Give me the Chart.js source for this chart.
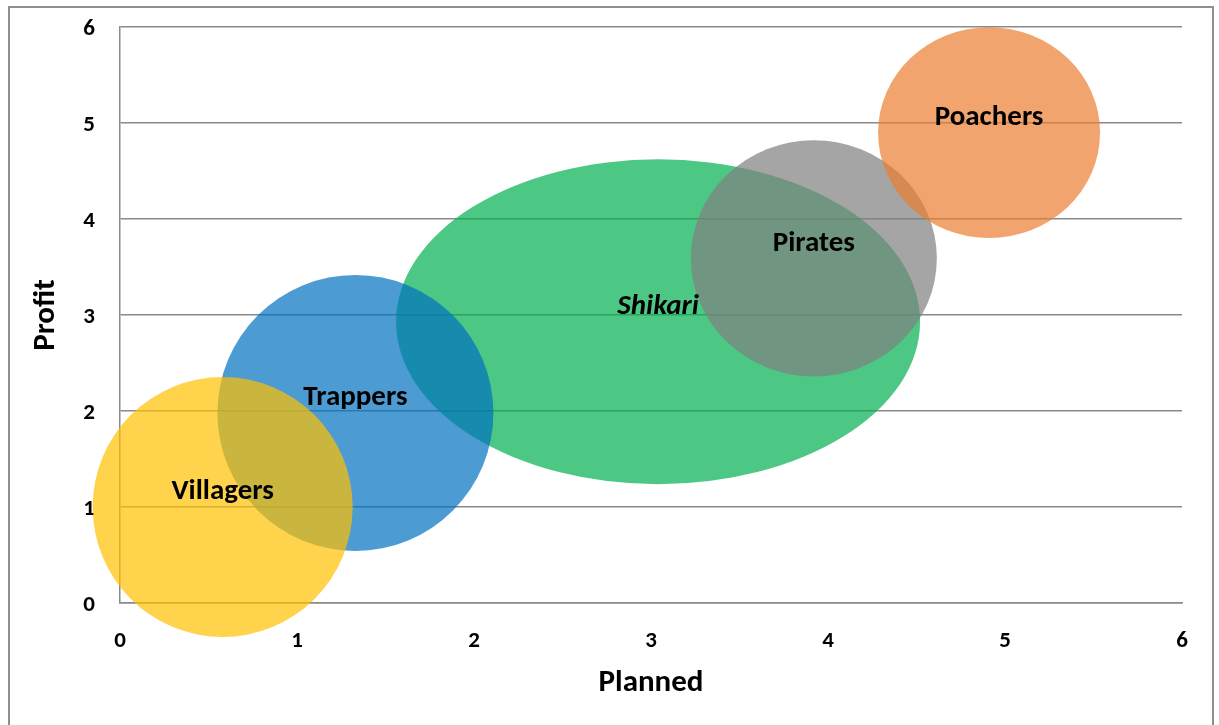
<!DOCTYPE html>
<html>
<head>
<meta charset="utf-8">
<script src="https://cdn.jsdelivr.net/npm/chart.js@4/dist/chart.umd.min.js"></script>
<style>
  body { margin: 0; background: #fff; overflow: hidden; }
  #frame {
    position: absolute; left: 8px; top: 6px; width: 1202px; height: 730px;
    border: 2px solid #8e8e8e; pointer-events: none;
  }
  canvas { position: absolute; left: 0; top: 0; }
</style>
</head>
<body>
<canvas id="myChart" width="1219" height="725"></canvas>
<div id="frame"></div>
<script>
  const groups = ['Villagers', 'Trappers', 'Shikari', 'Pirates', 'Poachers'];
  const planned = [0.58, 1.33, 3.04, 3.92, 4.91];
  const profit = [1.0, 1.98, 2.93, 3.59, 4.9];
  const bubbleSize = [1.3, 1.38, 2.62, 1.23, 1.11];
  const xTicks = [0, 1, 2, 3, 4, 5, 6];
  const yTicks = [0, 1, 2, 3, 4, 5, 6];

  const colors = [
    'rgba(255, 192, 0, 0.7)',
    'rgba(0, 112, 192, 0.7)',
    'rgba(0, 176, 80, 0.7)',
    'rgba(127, 127, 127, 0.7)',
    'rgba(237, 125, 49, 0.7)'
  ];
  // lower order is painted on top
  const drawOrder = [3, 4, 5, 2, 1];
  // vertical stretch of each bubble
  const aspect = [1, 1, 0.62, 0.96, 0.95];

  const font = 'Carlito, Calibri, Lato, sans-serif';

  const ellipsePlugin = {
    id: 'ellipse',
    beforeDatasetDraw(chart, args) {
      const pt = args.meta.data[0];
      const s = chart.data.datasets[args.index].aspect;
      const ctx = chart.ctx;
      ctx.save();
      ctx.translate(pt.x, pt.y);
      ctx.scale(1, s);
      ctx.translate(-pt.x, -pt.y);
    },
    afterDatasetDraw(chart) {
      chart.ctx.restore();
    }
  };

  const labelPlugin = {
    id: 'bubbleLabels',
    afterDatasetsDraw(chart) {
      const ctx = chart.ctx;
      ctx.save();
      ctx.textAlign = 'center';
      ctx.textBaseline = 'middle';
      ctx.fillStyle = '#000';
      chart.data.datasets.forEach((ds, i) => {
        const pt = chart.getDatasetMeta(i).data[0];
        ctx.font = (ds.label === 'Shikari' ? 'italic ' : '') + 'bold 29px ' + font;
        ctx.fillText(ds.label, pt.x, pt.y - 15);
      });
      ctx.restore();
    }
  };

  const data = {
    datasets: groups.map((g, i) => ({
      label: g,
      data: [{ x: planned[i], y: profit[i], r: bubbleSize[i] * 100 }],
      backgroundColor: colors[i],
      borderWidth: 0,
      hoverRadius: 0,
      order: drawOrder[i],
      aspect: aspect[i],
      clip: false
    }))
  };

  const config = {
    type: 'bubble',
    data: data,
    options: {
      responsive: false,
      animation: false,
      layout: { autoPadding: false, padding: { top: 27, right: 37, left: 0, bottom: 0 } },
      plugins: {
        legend: { display: false },
        tooltip: { enabled: false }
      },
      scales: {
        x: {
          type: 'linear',
          min: 0,
          max: 6,
          afterBuildTicks: scale => { scale.ticks = xTicks.map(v => ({ value: v })); },
          afterFit: scale => {
            scale.height = 122;
            scale.paddingLeft = 0;
            scale.paddingRight = 0;
          },
          grid: { display: false, drawTicks: false },
          border: { display: true, color: '#8a8a8a', width: 1.5 },
          ticks: { padding: 24, color: '#000', font: { family: font, size: 23, weight: 'bold' } },
          title: {
            display: true,
            text: 'Planned',
            color: '#000',
            padding: { top: 0, bottom: 23 },
            font: { family: font, size: 31, weight: 'bold' }
          }
        },
        y: {
          type: 'linear',
          min: 0,
          max: 6,
          afterBuildTicks: scale => { scale.ticks = yTicks.map(v => ({ value: v })); },
          afterFit: scale => {
            scale.width = 120;
            scale.paddingTop = 0;
            scale.paddingBottom = 0;
          },
          grid: { color: '#8a8a8a', lineWidth: 1.5, drawTicks: false },
          border: { display: true, color: '#8a8a8a', width: 1.5 },
          ticks: { padding: 25, labelOffset: 2, color: '#000', font: { family: font, size: 23, weight: 'bold' } },
          title: {
            display: true,
            text: 'Profit',
            color: '#000',
            padding: { top: 28, bottom: 0 },
            font: { family: font, size: 31, weight: 'bold' }
          }
        }
      }
    },
    plugins: [ellipsePlugin, labelPlugin]
  };

  const myChart = new Chart(
    document.getElementById('myChart'),
    config
  );
</script>
</body>
</html>
